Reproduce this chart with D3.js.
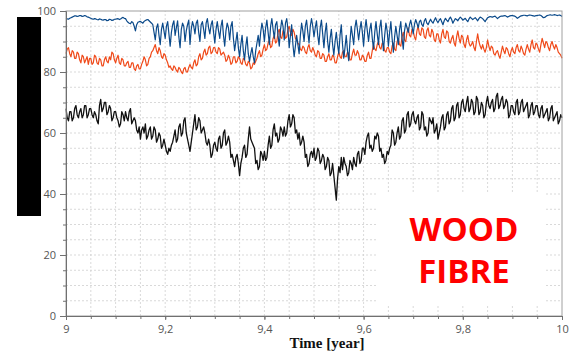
<!DOCTYPE html>
<html>
<head>
<meta charset="utf-8">
<script src="https://cdn.jsdelivr.net/npm/d3@7"></script>
<style>
  html, body { margin: 0; padding: 0; background: #fff; }
  svg { display: block; }
</style>
</head>
<body>
<div id="chart"></div>
<script>
// data ---------------------------------------------------------------------------------
const tStart = 9;
const tStep = 0.0025;
const xTicks = [9, 9.2, 9.4, 9.6, 9.8, 10];
const yTicks = [0, 20, 40, 60, 80, 100];

const blueVals = [
  97.6, 97.4, 97.3, 97.6, 97.8, 98.0, 98.2, 98.4, 98.4, 98.2, 98.3, 98.5, 98.5, 98.2, 98.3, 98.5, 98.4, 98.1, 98.0, 97.8,
  97.6, 97.4, 97.3, 97.5, 97.4, 97.2, 97.1, 97.4, 97.3, 97.1, 97.0, 97.2, 97.2, 96.8, 96.9, 97.3, 97.2, 96.9, 97.0, 97.3,
  97.3, 97.4, 97.5, 97.2, 97.4, 97.7, 97.9, 97.6, 97.5, 96.8, 96.3, 96.0, 95.8, 96.5, 96.2, 95.0, 93.5, 95.5, 96.3, 96.5,
  96.6, 96.3, 96.0, 96.6, 96.9, 97.1, 97.2, 96.8, 96.4, 96.0, 95.5, 93.0, 90.5, 94.5, 95.8, 92.0, 89.0, 94.0, 96.0, 93.5,
  91.0, 95.0, 96.5, 92.5, 88.5, 93.0, 95.5, 96.8, 92.0, 94.5, 96.8, 91.5, 88.0, 94.0, 96.0, 95.0, 90.0, 93.5, 95.5, 97.0,
  89.0, 94.0, 96.5, 95.0, 92.5, 96.0, 97.0, 93.0, 90.0, 95.5, 96.5, 94.0, 91.0, 96.0, 97.5, 94.5, 92.5, 95.5, 96.8, 93.0,
  89.5, 94.0, 96.5, 93.5, 91.0, 95.0, 97.0, 92.0, 88.5, 93.5, 96.0, 94.5, 90.5, 95.0, 96.5, 91.0, 87.0, 90.0, 93.0, 88.0,
  85.0, 89.0, 92.0, 87.0, 84.0, 88.5, 91.5, 86.0, 83.5, 86.0, 88.0, 85.0, 83.0, 87.0, 89.5, 92.0, 88.5, 93.0, 96.0, 94.0,
  90.0, 94.5, 97.0, 93.0, 89.0, 95.0, 97.5, 94.0, 91.0, 95.5, 96.5, 92.0, 88.5, 94.0, 97.0, 95.0, 90.5, 96.0, 97.5, 94.0,
  88.0, 92.0, 95.5, 89.0, 85.0, 88.5, 92.0, 89.0, 86.0, 92.0, 96.0, 93.5, 90.0, 95.0, 97.0, 93.0, 89.5, 95.0, 97.5, 95.0,
  91.5, 94.5, 96.8, 92.0, 89.0, 94.5, 97.0, 92.5, 88.0, 93.0, 96.0, 90.0, 86.5, 91.0, 94.0, 89.0, 85.5, 90.0, 93.0, 89.0,
  86.0, 92.0, 95.5, 89.0, 84.5, 88.0, 92.0, 87.0, 83.7, 90.0, 95.0, 92.0, 89.0, 94.5, 97.0, 94.0, 90.5, 94.0, 96.5, 93.0,
  88.5, 94.0, 97.2, 93.5, 90.0, 94.0, 96.0, 91.0, 87.5, 93.0, 96.5, 92.5, 89.0, 94.5, 97.0, 91.5, 87.0, 92.0, 96.0, 93.5,
  88.5, 93.0, 96.5, 91.0, 86.5, 91.5, 95.0, 92.0, 89.0, 94.0, 96.5, 91.0, 87.5, 93.5, 96.0, 94.5, 93.0, 95.5, 97.0, 95.0,
  92.5, 95.5, 97.2, 96.0, 94.5, 96.5, 97.0, 95.5, 95.0, 96.8, 97.5, 96.0, 95.5, 96.5, 97.3, 96.5, 96.0, 97.0, 97.8, 96.8,
  96.2, 97.0, 97.5, 96.5, 95.5, 96.8, 97.6, 97.0, 96.5, 97.4, 98.0, 97.2, 96.0, 96.8, 97.5, 97.2, 96.8, 97.5, 98.0, 97.6,
  97.0, 97.3, 97.6, 97.0, 96.5, 97.4, 98.0, 97.6, 97.2, 97.5, 97.8, 97.3, 96.8, 97.5, 98.0, 97.8, 97.5, 97.0, 96.5, 97.2,
  97.8, 98.0, 98.2, 98.1, 98.0, 98.2, 98.3, 97.9, 97.5, 97.9, 98.2, 98.3, 98.3, 98.4, 98.5, 98.3, 98.0, 98.2, 98.4, 98.5,
  98.5, 98.4, 98.3, 98.0, 97.6, 97.9, 98.2, 98.4, 98.5, 98.6, 98.6, 98.5, 98.4, 98.6, 98.7, 98.6, 98.5, 98.4, 98.3, 98.5,
  98.5, 98.6, 98.7, 98.5, 98.2, 97.8, 97.9, 98.2, 98.5, 98.6, 98.7, 98.7, 98.6, 98.7, 98.8, 98.7, 98.5, 98.6, 98.7, 98.5,
  98.2
];

const orangeVals = [
  86, 87.5, 88, 86, 85, 87, 86.5, 84.5, 84.5, 86.5, 86, 84, 83, 85.5, 85, 83, 84, 85, 82.5, 84.5,
  84.5, 82.5, 83, 85.5, 85, 83, 82.5, 84.5, 84, 82, 82, 84, 85, 83.5, 83, 85, 84, 86.5, 86, 84,
  83, 84.5, 85.5, 83, 82.5, 84.5, 84, 82, 82, 83, 83.5, 81.5, 81.5, 83, 83, 81, 80.5, 82, 82.5, 81,
  81, 82.5, 83.5, 85, 84, 82, 82.5, 84.5, 85, 86.5, 87, 88, 89, 87, 86, 88, 87, 85, 84.5, 86,
  85.5, 84, 83, 81.5, 82, 81, 80.5, 82, 81.5, 80.5, 80, 81.5, 81, 80, 79.5, 81, 81.5, 80, 80, 81.5,
  82.5, 81.5, 81, 83, 84, 82, 82.5, 85, 86, 84, 84.5, 86.5, 87.5, 85.5, 86, 88, 88.5, 86, 86.5, 88,
  88, 86.5, 86, 88, 87.5, 85.5, 86, 86.5, 85.5, 83.5, 84, 85.5, 84.5, 82.5, 83, 85, 85, 83, 83.5, 85,
  84.5, 83, 82.5, 84.5, 84, 82.5, 82, 83.5, 83, 81, 81.5, 83, 82.5, 83.5, 84.5, 86, 87, 85, 85.5, 87.5,
  89, 87, 87.5, 89.5, 90.5, 88, 88.5, 91, 92, 89.5, 90, 93, 94, 91.5, 91, 93.5, 93, 91, 91.5, 94,
  95, 93, 92, 94, 93, 91, 90.5, 89.5, 89, 87.5, 87, 88.5, 88, 86.5, 86, 88, 89, 87, 86.5, 88,
  87, 85.5, 85, 87, 86.5, 84.5, 84.5, 86, 85.5, 83.5, 83.5, 85, 86, 84, 84, 85.5, 85, 83, 83, 85,
  86.5, 85, 84.5, 86.5, 87, 85, 85, 86.5, 86, 84, 84, 86, 87.5, 85.5, 85.5, 87, 86, 84, 84, 85.5,
  85, 83.5, 83.5, 85.5, 86.5, 84.5, 84.5, 87, 89, 87.5, 87, 89, 90, 88, 87.5, 89.5, 89, 87, 86.5, 88,
  88, 86.5, 86, 88.5, 89.5, 87.5, 87, 90, 91, 89, 88.5, 91.5, 93, 90.5, 90, 93, 94.5, 92, 91.5, 94,
  93.5, 91.5, 90.5, 93.5, 95, 92.5, 92, 94.5, 94, 91.5, 91, 93.5, 94.5, 92, 91.5, 94, 93, 90.5, 90, 92.5,
  92.5, 90.5, 89.5, 92.5, 94, 91.5, 91, 93.5, 93, 90, 89.5, 91, 92, 89.5, 88.5, 91.5, 93.5, 91, 89.5, 92,
  91.5, 89, 88, 90.5, 92, 89.5, 88.5, 89, 90, 88, 87, 90, 92.5, 90, 88.5, 87.5, 89, 87.5, 86.5, 88,
  90.5, 88.5, 87, 88.5, 88, 86, 85.5, 86.5, 87, 85.5, 84.5, 86.5, 88.5, 87, 86, 88, 87.5, 86, 85, 87,
  88, 86.5, 86, 88, 89, 87, 86.5, 88.5, 87.5, 86, 85.5, 87.5, 89, 87.5, 86.5, 89, 90.5, 88, 87.5, 89.5,
  89, 87.5, 86.5, 89, 91, 89.5, 88, 90, 89.5, 88, 87, 89, 90, 88.5, 87.5, 89, 88, 86.5, 86, 85.5,
  84.5
];

const blackVals = [
  68, 65, 64, 67, 67, 64, 65, 68, 69, 66, 65, 67, 68, 65, 66, 69, 69, 65, 66, 68,
  68, 66, 65, 67, 66, 64, 63, 69, 71, 67, 68, 70, 70, 66, 67, 69, 68, 64, 65, 67,
  67, 65, 64, 62, 63, 67, 66, 64, 67, 65, 64, 67, 68, 63, 64, 65, 64, 61, 60, 62,
  58, 61, 62, 60, 63, 58, 59, 61, 62, 58, 59, 62, 61, 57, 58, 60, 59, 55, 56, 58,
  56, 54, 53, 55, 54, 56, 57, 59, 61, 57, 58, 62, 63, 59, 60, 64, 65, 60, 58, 56,
  54, 57, 60, 63, 66, 61, 62, 65, 64, 60, 61, 62, 60, 57, 56, 58, 56, 52, 53, 56,
  57, 55, 54, 58, 59, 55, 56, 60, 61, 56, 57, 59, 57, 52, 53, 51, 49, 52, 53, 50,
  46, 50, 52, 55, 56, 52, 53, 58, 62, 58, 57, 56, 55, 50, 51, 48, 49, 54, 53, 51,
  54, 51, 52, 56, 59, 55, 56, 61, 63, 59, 60, 57, 58, 62, 61, 59, 62, 59, 60, 64,
  66, 62, 63, 66, 65, 60, 61, 58, 60, 56, 57, 59, 57, 52, 53, 49, 50, 53, 54, 52,
  55, 51, 52, 55, 54, 50, 51, 53, 52, 48, 49, 52, 51, 46, 47, 50, 46, 42, 38, 45,
  49, 47, 52, 48, 52, 50, 49, 46, 47, 51, 50, 48, 52, 50, 49, 53, 54, 50, 51, 55,
  55, 53, 57, 59, 60, 55, 56, 54, 55, 59, 58, 60, 59, 54, 55, 52, 53, 50, 51, 54,
  53, 55, 56, 61, 60, 56, 57, 60, 62, 58, 59, 64, 65, 60, 61, 66, 67, 62, 63, 66,
  67, 64, 63, 65, 66, 61, 62, 67, 66, 61, 62, 59, 60, 65, 64, 63, 65, 60, 61, 63,
  58, 60, 62, 65, 66, 61, 62, 66, 67, 63, 64, 68, 69, 64, 65, 69, 70, 65, 66, 70,
  71, 68, 67, 70, 72, 67, 68, 71, 70, 66, 67, 72, 71, 66, 67, 70, 69, 65, 66, 70,
  72, 69, 68, 70, 71, 67, 68, 72, 73, 68, 69, 71, 72, 68, 69, 71, 70, 65, 66, 69,
  69, 67, 66, 70, 71, 66, 67, 70, 71, 67, 68, 69, 70, 65, 66, 69, 70, 66, 67, 69,
  69, 66, 65, 68, 69, 65, 66, 67, 68, 64, 65, 68, 69, 64, 65, 66, 67, 63, 64, 66,
  65
];

const seriesList = [
  { name: 'black', values: blackVals, color: '#111111', w: 1.3 },
  { name: 'orange', values: orangeVals, color: '#f04a1a', w: 1.2 },
  { name: 'blue', values: blueVals, color: '#0b4a8a', w: 1.2 }
];

// layout ---------------------------------------------------------------------------------
const width = 582;
const height = 353;
const margin = { left: 66, right: 20, top: 11, bottom: 37 };
const plotW = width - margin.left - margin.right;
const plotH = height - margin.top - margin.bottom;

const svg = d3.select('#chart').append('svg')
  .attr('width', width)
  .attr('height', height);

const x = d3.scaleLinear().domain([9, 10]).range([margin.left, margin.left + plotW]);
const y = d3.scaleLinear().domain([0, 100]).range([margin.top + plotH, margin.top]);

const fmt = d => String(d).replace('.', ',');

// grid -------------------------------------------------------------------------------------
const grid = svg.append('g')
  .attr('stroke', '#cfcfcf')
  .attr('stroke-width', 0.8)
  .attr('stroke-dasharray', '2,2');
grid.selectAll('line.gx')
  .data(d3.range(1, 20).map(i => 9 + i * 0.05))
  .enter().append('line')
  .attr('x1', d => x(d)).attr('x2', d => x(d))
  .attr('y1', y(0)).attr('y2', y(100));
grid.selectAll('line.gy')
  .data(d3.range(1, 20).map(i => i * 5))
  .enter().append('line')
  .attr('x1', x(9)).attr('x2', x(10))
  .attr('y1', d => y(d)).attr('y2', d => y(d));

// series -----------------------------------------------------------------------------------
const line = d3.line()
  .x((d, i) => x(tStart + i * tStep))
  .y(d => y(d));

svg.append('g')
  .selectAll('path')
  .data(seriesList)
  .enter().append('path')
  .attr('d', d => line(d.values))
  .attr('fill', 'none')
  .attr('stroke', d => d.color)
  .attr('stroke-width', d => d.w)
  .attr('stroke-linejoin', 'round');

// frame ------------------------------------------------------------------------------------
svg.append('rect')
  .attr('x', x(9)).attr('y', y(100))
  .attr('width', x(10) - x(9)).attr('height', y(0) - y(100))
  .attr('fill', 'none')
  .attr('stroke', '#a0a0a0')
  .attr('stroke-width', 1);

// axes ---------------------------------------------------------------------------------------
svg.append('g')
  .attr('transform', 'translate(0,' + y(0) + ')')
  .call(d3.axisBottom(x).tickValues(xTicks).tickFormat(fmt).tickSize(4).tickPadding(5));
svg.append('g')
  .attr('transform', 'translate(0,' + y(0) + ')')
  .call(d3.axisBottom(x).tickValues(d3.range(0, 21).map(i => 9 + i * 0.05)).tickFormat('').tickSize(3))
  .call(g => g.select('.domain').remove());

svg.append('g')
  .attr('transform', 'translate(' + x(9) + ',0)')
  .call(d3.axisLeft(y).tickValues(yTicks).tickSize(6).tickPadding(4));
svg.append('g')
  .attr('transform', 'translate(' + x(9) + ',0)')
  .call(d3.axisLeft(y).tickValues(d3.range(0, 21).map(i => i * 5)).tickFormat('').tickSize(3))
  .call(g => g.select('.domain').remove());

svg.selectAll('.domain').attr('stroke', '#707070');
svg.selectAll('.tick line').attr('stroke', '#707070');
svg.selectAll('.tick text')
  .attr('fill', '#555')
  .attr('font-family', '"Open Sans", "DejaVu Sans", sans-serif')
  .attr('font-size', 11);

svg.append('text')
  .attr('x', 327)
  .attr('y', 348)
  .attr('text-anchor', 'middle')
  .attr('font-family', '"Liberation Serif", "Times New Roman", serif')
  .attr('font-weight', 'bold')
  .attr('font-size', 15)
  .attr('fill', '#111')
  .text('Time [year]');

// y label hidden (black block) ---------------------------------------------------------------
svg.append('rect')
  .attr('x', 17).attr('y', 17)
  .attr('width', 24).attr('height', 199)
  .attr('fill', '#000');

// label box ------------------------------------------------------------------------------------
svg.append('rect')
  .attr('x', 377).attr('y', 192)
  .attr('width', 168).attr('height', 112)
  .attr('fill', '#fff');
svg.append('g')
  .attr('font-family', '"Open Sans", "Noto Sans", sans-serif')
  .attr('font-weight', 'bold')
  .attr('font-size', 33)
  .attr('fill', '#ff0000')
  .attr('text-anchor', 'middle')
  .selectAll('text')
  .data(['WOOD', 'FIBRE'])
  .enter().append('text')
  .attr('x', 464)
  .attr('y', (d, i) => 241 + i * 42)
  .text(d => d);
</script>
</body>
</html>
